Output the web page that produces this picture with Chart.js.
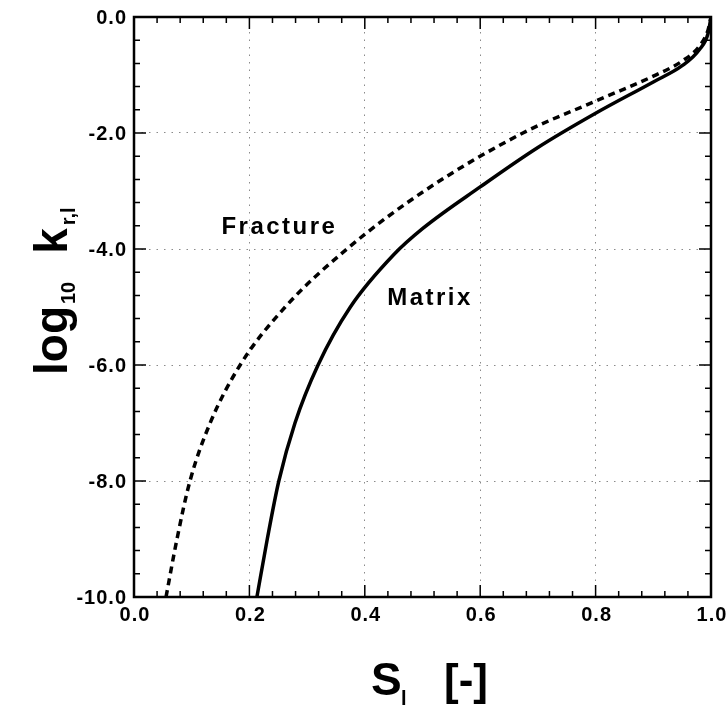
<!DOCTYPE html>
<html lang="en">
<head>
    <meta charset="UTF-8">
    <title>Relative permeability: fracture and matrix</title>
    <script src="https://cdn.jsdelivr.net/npm/chart.js"></script>
    <style>
        body {
            margin: 0;
            padding: 0;
            background-color: #ffffff;
        }
        #grafico {
            display: block;
        }
    </style>
</head>
<body>
    <canvas id="grafico" width="727" height="709"></canvas>

    <script>
        // curves: S_l and log10 k_r,l
        const fractureS = [0.0555, 0.0745, 0.097, 0.132, 0.184, 0.262, 0.369, 0.503, 0.674, 0.8, 0.9, 0.95, 0.98, 0.995, 1.0];
        const fractureLogK = [-10.0, -9.0, -8.0, -7.0, -6.0, -5.0, -4.0, -3.0, -2.0, -1.45, -1.02, -0.76, -0.5, -0.22, 0.0];

        const matrixS = [0.213, 0.231, 0.251, 0.279, 0.319, 0.375, 0.45, 0.5, 0.6, 0.7, 0.8, 0.9, 0.95, 0.98, 0.995, 1.0];
        const matrixLogK = [-10.0, -9.0, -8.0, -7.0, -6.0, -5.0, -4.1, -3.65, -2.93, -2.25, -1.66, -1.12, -0.84, -0.56, -0.28, 0.0];

        const xTicks = [0.0, 0.2, 0.4, 0.6, 0.8, 1.0];
        const yTicks = [0.0, -2.0, -4.0, -6.0, -8.0, -10.0];

        const fuente = '"Liberation Sans", Arial, Helvetica, sans-serif';

        function puntos(xs, ys) {
            return xs.map((x, i) => ({ x: x, y: ys[i] }));
        }

        // frame, inward ticks, tick labels, curve labels and axis titles
        const decoracion = {
            id: 'decoracion',
            beforeDraw(chart) {
                const ctx = chart.ctx;
                ctx.save();
                ctx.fillStyle = '#ffffff';
                ctx.fillRect(0, 0, chart.width, chart.height);
                ctx.restore();
            },
            afterDraw(chart) {
                const ctx = chart.ctx;
                const a = chart.chartArea;
                const sx = chart.scales.x;
                const sy = chart.scales.y;

                ctx.save();
                ctx.strokeStyle = '#000';
                ctx.lineWidth = 1.5;
                ctx.beginPath();
                // x ticks, bottom and top
                for (let i = 0; i <= 25; i++) {
                    const px = sx.getPixelForValue(i * 0.04);
                    const len = (i % 5 === 0) ? 12 : 6;
                    ctx.moveTo(px, a.bottom); ctx.lineTo(px, a.bottom - len);
                    ctx.moveTo(px, a.top); ctx.lineTo(px, a.top + len);
                }
                // y ticks, left and right
                for (let i = 0; i <= 25; i++) {
                    const py = sy.getPixelForValue(-i * 0.4);
                    const len = (i % 5 === 0) ? 12 : 6;
                    ctx.moveTo(a.left, py); ctx.lineTo(a.left + len, py);
                    ctx.moveTo(a.right, py); ctx.lineTo(a.right - len, py);
                }
                ctx.stroke();

                ctx.lineWidth = 2.5;
                ctx.strokeRect(a.left, a.top, a.right - a.left, a.bottom - a.top);

                ctx.fillStyle = '#000';

                // tick labels
                ctx.font = 'bold 20px ' + fuente;
                ctx.letterSpacing = '1px';
                ctx.textBaseline = 'middle';
                ctx.textAlign = 'right';
                yTicks.forEach(v => {
                    ctx.fillText(v.toFixed(1), a.left - 7, sy.getPixelForValue(v) + 1);
                });
                ctx.textAlign = 'center';
                xTicks.forEach(v => {
                    ctx.fillText(v.toFixed(1), sx.getPixelForValue(v) + 1, a.bottom + 18);
                });

                // curve labels
                ctx.font = 'bold 24px ' + fuente;
                ctx.letterSpacing = '2.5px';
                ctx.fillText('Fracture', sx.getPixelForValue(0.252), sy.getPixelForValue(-3.62));
                ctx.fillText('Matrix', sx.getPixelForValue(0.513), sy.getPixelForValue(-4.85));
                ctx.letterSpacing = '0px';

                // x title: S_l  [-]
                ctx.textAlign = 'left';
                ctx.textBaseline = 'alphabetic';
                ctx.font = 'bold 46px ' + fuente;
                ctx.fillText('S', 371, 695);
                ctx.font = 'bold 20px ' + fuente;
                ctx.fillText('l', 401, 705);
                ctx.font = 'bold 44px ' + fuente;
                ctx.fillText('[-]', 444, 695);

                // y title: log10 k_r,l (rotated)
                ctx.translate(67, 375);
                ctx.rotate(-Math.PI / 2);
                let x = 0;
                ctx.font = 'bold 46px ' + fuente;
                ctx.fillText('log', x, 0);
                x += ctx.measureText('log').width + 2;
                ctx.font = 'bold 20px ' + fuente;
                ctx.fillText('10', x, 8);
                x += ctx.measureText('10').width + 28;
                ctx.font = 'bold 46px ' + fuente;
                ctx.fillText('k', x, 0);
                x += ctx.measureText('k').width + 3;
                ctx.font = 'bold 20px ' + fuente;
                ctx.fillText('r,l', x, 8);
                ctx.restore();
            }
        };

        const ctxGrafico = document.getElementById('grafico').getContext('2d');

        const grafico = new Chart(ctxGrafico, {
            type: 'scatter',
            data: {
                datasets: [{
                    label: 'Fracture',
                    data: puntos(fractureS, fractureLogK),
                    showLine: true,
                    borderColor: '#000',
                    borderWidth: 3.5,
                    borderDash: [7, 5],
                    pointRadius: 0,
                    cubicInterpolationMode: 'monotone'
                }, {
                    label: 'Matrix',
                    data: puntos(matrixS, matrixLogK),
                    showLine: true,
                    borderColor: '#000',
                    borderWidth: 3.5,
                    pointRadius: 0,
                    cubicInterpolationMode: 'monotone'
                }]
            },
            options: {
                responsive: false,
                animation: false,
                layout: {
                    padding: { left: 0, right: 16, top: 17, bottom: 0 }
                },
                plugins: {
                    legend: { display: false },
                    tooltip: { enabled: false }
                },
                scales: {
                    x: {
                        type: 'linear',
                        min: 0,
                        max: 1,
                        afterBuildTicks: s => { s.ticks = xTicks.map(v => ({ value: v })); },
                        afterFit: s => { s.height = 112; },
                        ticks: { display: false },
                        grid: { color: '#8a8a8a', lineWidth: 1, drawTicks: false },
                        border: { display: false, dash: [1.5, 6] }
                    },
                    y: {
                        type: 'linear',
                        min: -10,
                        max: 0,
                        afterBuildTicks: s => { s.ticks = yTicks.map(v => ({ value: v })); },
                        afterFit: s => { s.width = 134; },
                        ticks: { display: false },
                        grid: { color: '#8a8a8a', lineWidth: 1, drawTicks: false },
                        border: { display: false, dash: [1.5, 6] }
                    }
                }
            },
            plugins: [decoracion]
        });
    </script>
</body>
</html>
